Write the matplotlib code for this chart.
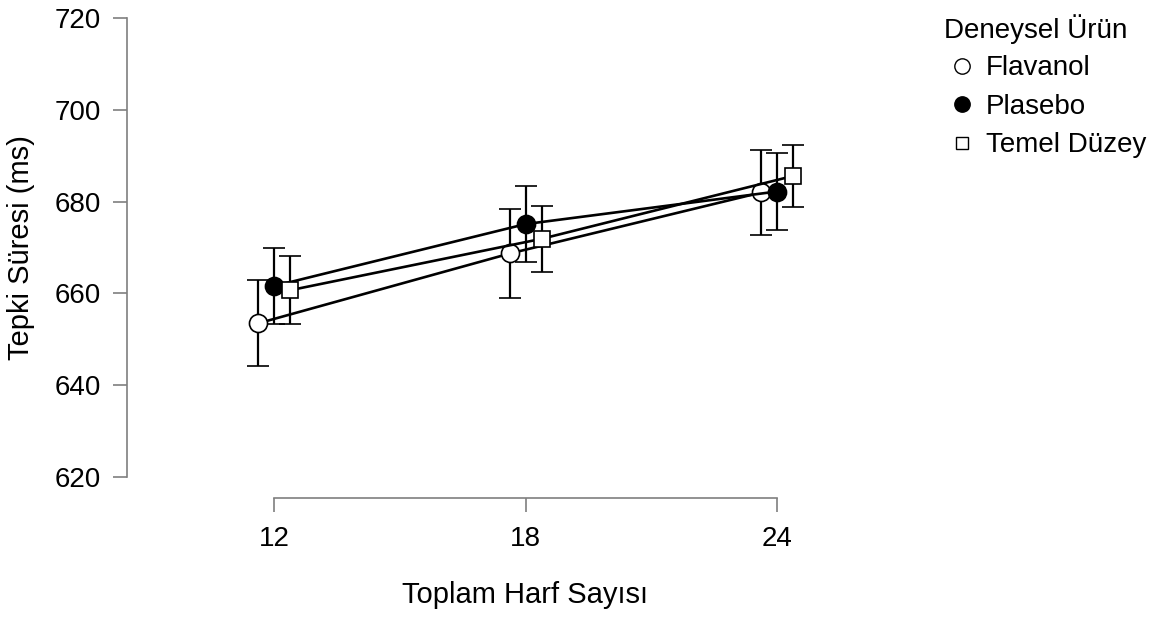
import numpy as np
import matplotlib.pyplot as plt
from matplotlib.lines import Line2D

plt.rcParams['font.family'] = ['Liberation Sans', 'DejaVu Sans']

# data
letters = [12, 18, 24]
groups = ['Flavanol', 'Plasebo', 'Temel Düzey']
means = {
  'Flavanol':    [653.5, 668.7, 682.0],
  'Plasebo':     [661.6, 675.1, 682.2],
  'Temel Düzey': [660.7, 671.9, 685.6],
}
errors = {
  'Flavanol':    [9.4, 9.6, 9.3],
  'Plasebo':     [8.2, 8.3, 8.3],
  'Temel Düzey': [7.4, 7.2, 6.8],
}
y_ticks = [620, 640, 660, 680, 700, 720]

# marker style per group
styles = {
  'Flavanol':    dict(marker='o', mfc='white', ms=13),
  'Plasebo':     dict(marker='o', mfc='black', ms=13),
  'Temel Düzey': dict(marker='s', mfc='white', ms=11),
}
dodge = {'Flavanol': -0.37, 'Plasebo': 0.0, 'Temel Düzey': 0.39}

W, H = 1168, 617
fig = plt.figure(figsize=(W / 100, H / 100), dpi=100)
# axes box in pixels: left 127, right 830, bottom 477, top 18
ax = fig.add_axes([127 / W, 1 - 477 / H, (830 - 127) / W, (477 - 18) / H])

for g in groups:
  x = np.array(letters) + dodge[g]
  ax.errorbar(x, means[g], yerr=errors[g], color='black', lw=1.9,
              elinewidth=1.6, capsize=8, capthick=1.6,
              mec='black', mew=1.2, zorder=3, **styles[g])

px_per_unit = (777 - 274) / 12
ax.set_xlim(12 - (274 - 127) / px_per_unit, 12 + (830 - 274) / px_per_unit)
ax.set_ylim(620, 720)

# JASP-like axes: bounded grey spines, x spine pushed down
grey = '#7f7f7f'
for s in ['top', 'right']:
  ax.spines[s].set_visible(False)
ax.spines['left'].set_bounds(620, 720)
ax.spines['bottom'].set_bounds(12, 24)
ax.spines['bottom'].set_position(('outward', 15))
for s in ['left', 'bottom']:
  ax.spines[s].set_color(grey)
  ax.spines[s].set_linewidth(1.2)

ax.set_xticks(letters)
ax.set_xticklabels([str(v) for v in letters])
ax.set_yticks(y_ticks)
ax.tick_params(axis='both', colors=grey, labelcolor='black', labelsize=20,
               length=10, width=1.2, pad=9)
ax.tick_params(axis='x', pad=10)

ax.set_xlabel('Toplam Harf Sayısı', fontsize=21)
# centre the x title under the 12-24 range, as in the reference
ax.xaxis.set_label_coords((525 - 127) / (830 - 127), -0.226)
ax.set_ylabel('Tepki Süresi (ms)', fontsize=21, labelpad=14)

handles = [Line2D([], [], ls='none', color='black', mec='black', mew=1.0,
                  marker=styles[g]['marker'], mfc=styles[g]['mfc'],
                  ms=styles[g]['ms'] * 0.85)
           for g in groups]
leg = fig.legend(handles, groups, title='Deneysel Ürün', loc='upper left',
                 bbox_to_anchor=(936 / W, 1 - 6 / H), frameon=False,
                 fontsize=20, title_fontsize=20, alignment='left',
                 handlelength=1.25, handletextpad=0.25, labelspacing=0.45,
                 borderaxespad=0, borderpad=0.3)
leg._legend_box.sep = 8

fig.savefig('out.png', dpi=100)
